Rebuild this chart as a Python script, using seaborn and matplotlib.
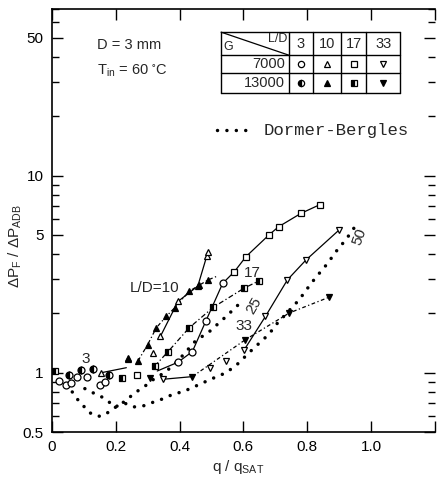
import numpy as np
import pandas as pd
import seaborn as sns
import matplotlib.pyplot as plt
from matplotlib.lines import Line2D

sns.set_style('ticks')
plt.rcParams['font.family'] = ['Liberation Sans', 'DejaVu Sans']
plt.rcParams['mathtext.default'] = 'regular'

# L/D = 3
ld3_g7_x = [0.022, 0.044, 0.06, 0.079, 0.11, 0.152, 0.165]
ld3_g7_y = [0.91, 0.87, 0.89, 0.95, 0.95, 0.87, 0.90]
ld3_g13_x = [0.054, 0.09, 0.127, 0.18]
ld3_g13_y = [0.97, 1.03, 1.05, 0.97]

# L/D = 10
ld10_g7_x = [0.155, 0.238, 0.317, 0.34, 0.395, 0.457, 0.485, 0.49]
ld10_g7_y = [1.0, 1.17, 1.26, 1.53, 2.3, 2.75, 3.9, 4.1]
ld10_g13_x = [0.237, 0.27, 0.30, 0.327, 0.358, 0.384, 0.43, 0.46, 0.49]
ld10_g13_y = [1.19, 1.15, 1.39, 1.69, 1.93, 2.13, 2.59, 2.77, 2.96]

# L/D = 17
ld17_g7_x = [0.265, 0.572, 0.608, 0.68, 0.71, 0.78, 0.84]
ld17_g7_y = [0.97, 3.26, 3.88, 5.0, 5.5, 6.43, 7.13]
mid_x = [0.395, 0.44, 0.483, 0.535]
mid_y = [1.13, 1.28, 1.84, 2.84]
ld17_g13_x = [0.01, 0.218, 0.322, 0.364, 0.43, 0.506, 0.603, 0.648]
ld17_g13_y = [1.02, 0.94, 1.08, 1.28, 1.69, 2.15, 2.69, 2.92]

# L/D = 33
ld33_g7_x = [0.348, 0.494, 0.546, 0.603, 0.669, 0.738, 0.796, 0.9]
ld33_g7_y = [0.926, 1.06, 1.14, 1.31, 1.93, 2.96, 3.73, 5.3]
ld33_g13_x = [0.306, 0.44, 0.606, 0.744, 0.867]
ld33_g13_y = [0.94, 0.955, 1.47, 2.01, 2.41]

# Dormer-Bergles predictions
db1_x = [0.05, 0.061, 0.077, 0.096, 0.108, 0.129, 0.152, 0.17, 0.19, 0.21, 0.233,
         0.254, 0.275, 0.298, 0.32, 0.348, 0.375, 0.395, 0.45, 0.494, 0.546, 0.59]
db1_y = [0.88, 0.81, 0.74, 0.69, 0.645, 0.61, 0.60, 0.62, 0.65, 0.69, 0.72,
         0.78, 0.82, 0.87, 0.93, 0.99, 1.07, 1.15, 1.45, 1.62, 1.93, 2.26]
db2_x = [0.103, 0.129, 0.152, 0.17, 0.197, 0.228, 0.256, 0.288, 0.319, 0.351, 0.381,
         0.41, 0.44, 0.5, 0.546, 0.58, 0.634, 0.66, 0.683, 0.702, 0.77, 0.79, 0.81,
         0.834, 0.856, 0.877, 0.898, 0.92, 0.955]
db2_y = [0.83, 0.79, 0.76, 0.73, 0.67, 0.70, 0.67, 0.68, 0.71, 0.74, 0.78,
         0.80, 0.84, 0.93, 1.0, 1.1, 1.34, 1.46, 1.59, 1.75, 2.3, 2.53, 2.81,
         3.14, 3.46, 3.84, 4.28, 4.7, 5.67]

table_cols = ['3', '10', '17', '33']
table_rows = ['7000', '13000']

fig = plt.figure(figsize=(4.37, 4.80), dpi=100)
ax = fig.add_axes([0.119, 0.10, 0.876, 0.881])

DOTS = (0, (0.01, 2.7))

def pts(x, y, marker, fill='none', ms=5, ls='', lw=0.9):
    kw = dict(marker=marker, color='black', markeredgecolor='black',
              markeredgewidth=0.9, markersize=ms, linestyle=ls, linewidth=lw)
    if fill == 'none':
        kw['markerfacecolor'] = 'white'
    elif fill == 'half':
        kw['fillstyle'] = 'left'
        kw['markerfacecolor'] = 'black'
        kw['markerfacecoloralt'] = 'white'
    else:
        kw['markerfacecolor'] = 'black'
    sns.lineplot(x=x, y=y, ax=ax, errorbar=None, **kw)

def curve(x, y, ls, lw=0.9):
    sns.lineplot(x=x, y=y, ax=ax, errorbar=None, color='black', linestyle=ls, linewidth=lw)

# fitted curves
curve(ld10_g7_x[3:], ld10_g7_y[3:], '-')
curve([0.155, 0.233], [1.0, 1.06], '-')
curve(ld10_g13_x[1:] + [0.52], ld10_g13_y[1:] + [3.1], (0, (3, 2, 1, 2)))
curve([0.33] + mid_x + ld17_g7_x[1:], [1.02] + mid_y + ld17_g7_y[1:], '-')
curve(ld17_g13_x[2:] + [0.665], ld17_g13_y[2:] + [3.0], (0, (4, 2, 1, 2)))
curve(ld33_g7_x[:1] + [0.44], ld33_g7_y[:1] + [0.955], '-')
curve(ld33_g7_x[3:], ld33_g7_y[3:], '-')
curve(ld33_g13_x[1:], ld33_g13_y[1:], (0, (3, 2, 1, 2)))

for dx, dy in [(db1_x, db1_y), (db2_x, db2_y)]:
    sns.lineplot(x=dx, y=dy, ax=ax, errorbar=None, color='black', linewidth=2.5,
                 linestyle=DOTS, dash_capstyle='round')

# data points
pts(ld3_g7_x, ld3_g7_y, 'o')
pts(ld3_g13_x, ld3_g13_y, 'o', 'half')
pts(ld10_g7_x, ld10_g7_y, '^')
pts(ld10_g13_x, ld10_g13_y, '^', 'full')
pts(ld17_g7_x, ld17_g7_y, 's')
pts(mid_x, mid_y, 'o')
pts(ld17_g13_x, ld17_g13_y, 's', 'half')
pts(ld33_g7_x, ld33_g7_y, 'v')
pts(ld33_g13_x, ld33_g13_y, 'v', 'full')

ax.set_yscale('log')
ax.set_xlim(0, 1.2)
ax.set_ylim(0.5, 70)
ax.set_xticks([0, 0.2, 0.4, 0.6, 0.8, 1.0, 1.2])
ax.set_xticklabels(['0', '0.2', '0.4', '0.6', '0.8', '1.0', ''])
ax.set_yticks([0.5, 1, 5, 10, 50])
ax.set_yticklabels(['0.5', '1', '5', '10', '50'])
ax.set_yticks([0.6, 0.7, 0.8, 0.9, 2, 3, 4, 6, 7, 8, 9, 20, 30, 40, 60, 70], minor=True)
ax.set_xticks([], minor=True)
ax.tick_params(which='both', direction='in', top=True, right=True, colors='black',
               labelsize=11, width=1.0)
ax.tick_params(which='major', length=8, pad=6)
ax.tick_params(which='minor', length=5)
for s in ['left', 'bottom', 'top']:
    ax.spines[s].set_linewidth(1.2)
    ax.spines[s].set_color('black')
ax.spines['right'].set_visible(False)

ax.set_xlabel(r'q / q$_{SAT}$', fontsize=11)
ax.xaxis.set_label_coords(0.486, -0.062)
ax.set_ylabel(r'$\Delta$P$_F$ / $\Delta$P$_{ADB}$', fontsize=11)
ax.yaxis.set_label_coords(-0.072, 0.44)

# curve labels
ax.text(0.244, 2.69, 'L/D=10', fontsize=11, va='center')
ax.text(0.105, 1.17, '3', fontsize=11, va='center', ha='center')
ax.text(0.60, 3.2, '17', fontsize=11, va='center')
ax.text(0.632, 2.2, '25', fontsize=11, va='center', ha='center', rotation=60)
ax.text(0.575, 1.72, '33', fontsize=11, va='center')
ax.text(0.965, 4.9, '50', fontsize=11, va='center', ha='center', rotation=70)

ax.text(0.14, 46, 'D = 3 mm', fontsize=10.5, va='center')
ax.text(0.14, 34, r'T$_{in}$ = 60 $^{\circ}$C', fontsize=10.5, va='center')

# table of symbols
gx = [0.4416, 0.618, 0.683, 0.756, 0.821, 0.909]
gy = [0.9456, 0.8913, 0.8487, 0.8014]
tr = ax.transAxes
for xv in gx:
    ax.add_line(Line2D([xv, xv], [gy[0], gy[-1]], transform=tr, color='black', lw=1.0))
for yv in gy:
    ax.add_line(Line2D([gx[0], gx[-1]], [yv, yv], transform=tr, color='black', lw=1.0))
ax.add_line(Line2D([gx[0], gx[1]], [gy[0], gy[1]], transform=tr, color='black', lw=0.9))
ax.text(gx[0] + 0.006, gy[1] + 0.004, 'G', transform=tr, fontsize=9, va='bottom')
ax.text(gx[1] - 0.004, gy[0] - 0.003, 'L/D', transform=tr, fontsize=9, va='top', ha='right')
for i, c in enumerate(table_cols):
    ax.text((gx[i + 1] + gx[i + 2]) / 2, (gy[0] + gy[1]) / 2, c, transform=tr,
            fontsize=10.5, ha='center', va='center')
for j, r in enumerate(table_rows):
    ax.text(gx[1] - 0.01, (gy[j + 1] + gy[j + 2]) / 2, r, transform=tr,
            fontsize=10.5, ha='right', va='center')
cell_markers = ['o', '^', 's', 'v']
for i, m in enumerate(cell_markers):
    cx = (gx[i + 1] + gx[i + 2]) / 2
    for j in range(2):
        cy = (gy[j + 1] + gy[j + 2]) / 2
        kw = dict(marker=m, color='black', markersize=4.5, markeredgewidth=0.9,
                  transform=tr, linestyle='')
        if j == 0:
            kw['markerfacecolor'] = 'white'
        elif m in ('o', 's'):
            kw.update(fillstyle='left', markerfacecolor='black', markerfacecoloralt='white')
        else:
            kw['markerfacecolor'] = 'black'
        ax.plot([cx], [cy], **kw)

# Dormer-Bergles key
ax.add_line(Line2D([0.432, 0.515], [0.714, 0.714], transform=tr, color='black', lw=2.5,
                   linestyle=DOTS, dash_capstyle='round'))
ax.text(0.553, 0.714, 'Dormer-Bergles', transform=tr, fontsize=12.5,
        family=['Liberation Mono', 'DejaVu Sans Mono'], va='center')

fig.savefig('out.png', dpi=100)
